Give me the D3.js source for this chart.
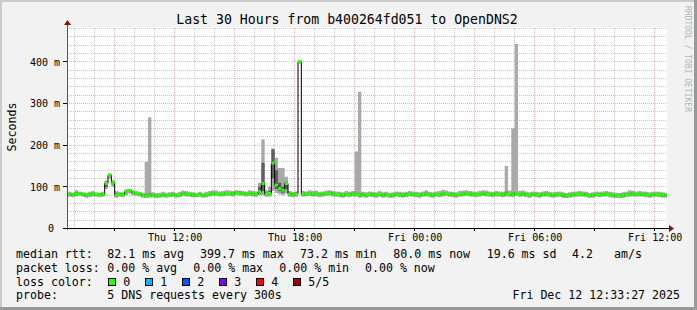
<!DOCTYPE html>
<html lang="en">
<head>
<meta charset="UTF-8">
<title>smokeping</title>
<script src="https://d3js.org/d3.v7.min.js"></script>
<style>
  body { margin: 0; background: #fff; }
  text { font-family: "DejaVu Sans Mono", monospace; fill: #000; }
</style>
</head>
<body>
<svg width="697" height="310" id="mainsvg"></svg>
<script>
// 10 minute samples, first one at Thu 06:40
const med = [
  82,81,83,84,82,80,81,83,82,81,
  82,108,128,110,80,82,81,88,91,86,
  84,83,79,78,79,80,78,79,80,79,
  80,81,79,80,84,83,82,80,80,81,
  79,80,82,84,84,82,82,84,84,83,
  86,85,84,83,84,83,82,88,108,82,
  84,157,104,96,92,108,82,81,82,400,
  82,83,84,82,83,81,82,84,85,83,
  82,81,80,82,81,83,82,80,81,80,
  82,81,80,82,80,81,79,80,82,81,
  80,81,83,82,81,80,82,83,81,80,
  82,81,83,84,82,81,80,82,83,84,
  83,82,81,82,84,83,82,81,83,82,
  81,83,82,81,84,82,83,81,80,82,
  81,80,82,83,81,80,81,82,80,78,
  80,81,82,83,82,81,79,80,82,81,
  82,83,81,80,79,78,79,81,82,83,
  82,83,82,81,80,81,82,81,80,80
];
const hi = [
  88,86,92,89,87,86,88,90,87,86,
  88,115,132,116,90,88,87,94,95,92,
  90,88,86,160,267,87,85,86,88,86,
  87,88,86,88,91,90,88,87,86,88,
  86,88,90,92,91,89,90,92,91,90,
  92,91,90,89,92,90,89,110,214,92,
  100,192,170,145,145,124,90,88,89,404,
  90,89,92,90,91,88,89,91,92,90,
  89,88,87,90,88,90,185,328,88,87,
  89,88,87,90,87,88,86,87,89,88,
  87,88,90,89,88,87,89,92,88,87,
  89,90,93,91,89,88,87,90,91,92,
  90,89,88,90,92,91,89,88,90,89,
  88,150,91,240,443,90,91,89,87,89,
  88,87,89,90,88,87,88,89,87,85,
  87,88,89,90,89,88,86,87,89,88,
  89,90,88,87,86,85,87,88,92,90,
  89,90,89,88,87,88,89,88,87,86
];
const lo = [
  76,75,77,78,76,74,75,77,76,75,
  76,95,120,100,74,76,75,80,84,80,
  78,77,74,73,74,75,73,74,75,74,
  75,76,74,75,78,77,76,75,75,76,
  74,75,77,78,78,77,77,78,78,77,
  80,79,78,77,78,77,76,80,80,76,
  77,90,85,82,80,84,76,75,76,396,
  76,77,78,76,77,75,76,78,79,77,
  76,75,74,76,75,77,76,74,75,74,
  76,75,74,76,74,75,73,74,76,75,
  74,75,77,76,75,74,76,77,75,74,
  76,75,77,78,76,75,74,76,77,78,
  77,76,75,76,78,77,76,75,77,76,
  75,77,76,75,78,76,77,75,74,76,
  75,74,76,77,75,74,75,76,74,73,
  74,75,76,77,76,75,73,74,76,75,
  76,77,75,74,73,73,73,75,76,77,
  76,77,76,75,74,75,76,75,74,74
];
const darkLo = [
  79,78,80,81,79,77,78,80,79,78,
  79,100,125,106,77,79,78,85,88,83,
  81,80,76,75,76,77,75,76,77,76,
  77,78,76,77,81,80,79,77,77,78,
  76,77,79,81,81,79,79,81,81,80,
  83,82,81,80,81,80,79,84,90,79,
  80,120,95,90,86,95,79,78,79,398,
  79,80,81,79,80,78,79,81,82,80,
  79,78,77,79,78,80,79,77,78,77,
  79,78,77,79,77,78,76,77,79,78,
  77,78,80,79,78,77,79,80,78,77,
  79,78,80,81,79,78,77,79,80,81,
  80,79,78,79,81,80,79,78,80,79,
  78,80,79,78,81,79,80,78,77,79,
  78,77,79,80,78,77,78,79,77,75,
  77,78,79,80,79,78,76,77,79,78,
  79,80,78,77,76,75,76,78,79,80,
  79,80,79,78,77,78,79,78,77,77
];
const darkHi = [
  85,84,87,87,85,83,84,86,85,84,
  85,112,130,114,84,85,84,91,93,89,
  87,86,82,82,84,83,81,82,83,82,
  83,84,82,83,87,86,85,83,83,84,
  82,83,85,87,87,85,85,87,87,86,
  89,88,87,86,87,86,85,100,158,86,
  90,190,140,110,100,112,86,85,86,402,
  85,86,87,85,86,84,85,87,88,86,
  85,84,83,85,84,86,86,84,84,83,
  85,84,83,85,83,84,82,83,85,84,
  83,84,86,85,84,83,85,86,84,83,
  85,84,86,87,85,84,83,85,86,87,
  86,85,84,85,87,86,85,84,86,85,
  84,88,85,86,87,85,86,84,83,85,
  84,83,85,86,84,83,84,85,83,81,
  83,84,85,86,85,84,82,83,85,84,
  85,86,84,83,82,81,82,84,86,86,
  85,86,85,84,83,84,85,84,83,83
];

const firstSample = new Date(2025, 11, 11, 6, 40);
const stepMinutes = 10;
const viewStart = new Date(2025, 11, 11, 6, 37);
const viewEnd = new Date(2025, 11, 12, 12, 37);
const labelTimes = [
  new Date(2025, 11, 11, 12, 0), new Date(2025, 11, 11, 18, 0),
  new Date(2025, 11, 12, 0, 0), new Date(2025, 11, 12, 6, 0),
  new Date(2025, 11, 12, 12, 0)
];
const yTicks = [0, 100, 200, 300, 400];
const yMax = 480;

const titleText = 'Last 30 Hours from b400264fd051 to OpenDNS2';
const rttStats = ['82.1 ms avg', '399.7 ms max', '73.2 ms min', '80.0 ms now', '19.6 ms sd'];
const amsStat = ['4.2', 'am/s'];
const lossStats = ['0.00 % avg', '0.00 % max', '0.00 % min', '0.00 % now'];
const lossLabels = ['0', '1', '2', '3', '4', '5/5'];
const lossColors = ['#26ff00', '#00b8ff', '#0059ff', '#7e00ff', '#ff0000', '#a10000'];
const probeText = '5 DNS requests every 300s';
const stampText = 'Fri Dec 12 12:33:27 2025';

const svg = d3.select('#mainsvg');
const width = +svg.attr('width');
const height = +svg.attr('height');
const plot = { left: 67, right: 667, top: 28, bottom: 228 };

const x = d3.scaleTime().domain([viewStart, viewEnd]).range([plot.left, plot.right]);
const y = d3.scaleLinear().domain([0, yMax]).range([plot.bottom + 0.5, plot.top + 0.5]);
const px = v => Math.floor(v) + 0.5;

const rows = med.map((m, i) => ({
  t: d3.timeMinute.offset(firstSample, i * stepMinutes),
  med: m, hi: hi[i], lo: lo[i], dlo: darkLo[i], dhi: darkHi[i]
}));
// closing point so the last step gets its width
const rowsStep = rows.concat([Object.assign({}, rows[rows.length - 1],
  { t: d3.timeMinute.offset(rows[rows.length - 1].t, stepMinutes) })]);

// background + 3d frame
svg.append('rect').attr('width', width).attr('height', height).attr('fill', '#f2f2f2');
svg.append('path').attr('d', `M0,0H${width}V2H2V${height}H0Z`).attr('fill', '#cbcbcb');
svg.append('path').attr('d', `M${width},${height}H0V${height - 3}H${width - 3}V0H${width}Z`).attr('fill', '#999999');
svg.append('rect').attr('x', plot.left).attr('y', plot.top - 1)
  .attr('width', plot.right - plot.left).attr('height', plot.bottom - plot.top + 1).attr('fill', '#fff');

svg.append('defs').append('clipPath').attr('id', 'clip')
  .append('rect').attr('x', plot.left).attr('y', plot.top - 2)
  .attr('width', plot.right - plot.left).attr('height', plot.bottom - plot.top + 2);

// grid
const grid = svg.append('g').attr('shape-rendering', 'crispEdges').attr('stroke-dasharray', '1,1');
const minorY = d3.range(20, yMax + 1, 20).filter(v => v % 100 !== 0);
const majorY = d3.range(100, yMax + 1, 100);
grid.selectAll('.hmin').data(minorY).join('line')
  .attr('x1', plot.left).attr('x2', plot.right)
  .attr('y1', d => px(y(d))).attr('y2', d => px(y(d)))
  .attr('stroke', '#c6c6c6');
const hours = d3.timeHour.range(viewStart, viewEnd);
grid.selectAll('.vmin').data(hours.filter(h => h.getHours() % 3 !== 0)).join('line')
  .attr('y1', plot.top).attr('y2', plot.bottom)
  .attr('x1', d => px(x(d))).attr('x2', d => px(x(d)))
  .attr('stroke', '#c6c6c6');
grid.selectAll('.hmaj').data(majorY).join('line')
  .attr('x1', plot.left).attr('x2', plot.right)
  .attr('y1', d => px(y(d))).attr('y2', d => px(y(d)))
  .attr('stroke', '#f4b0b0');
grid.selectAll('.vmaj').data(hours.filter(h => h.getHours() % 3 === 0)).join('line')
  .attr('y1', plot.top).attr('y2', plot.bottom)
  .attr('x1', d => px(x(d))).attr('x2', d => px(x(d)))
  .attr('stroke', '#f4b0b0');

// smoke + median
const g = svg.append('g').attr('clip-path', 'url(#clip)');
const band = (a, b) => d3.area().curve(d3.curveStepAfter)
  .x(d => x(d.t)).y0(d => y(d[a])).y1(d => y(d[b]));
g.append('path').datum(rowsStep).attr('d', band('lo', 'hi')).attr('fill', '#a9a9a9');
g.append('path').datum(rowsStep).attr('d', band('dlo', 'dhi')).attr('fill', '#5f5f5f');
g.append('path').datum(rowsStep)
  .attr('d', d3.line().curve(d3.curveStepAfter).x(d => x(d.t)).y(d => y(d.med)))
  .attr('fill', 'none').attr('stroke', '#000').attr('stroke-width', 1);
g.selectAll('.medbar').data(rows).join('rect')
  .attr('x', d => x(d.t))
  .attr('width', d => x(d3.timeMinute.offset(d.t, stepMinutes)) - x(d.t))
  .attr('y', d => y(d.med) - 1.5).attr('height', 3)
  .attr('fill', lossColors[0]);

// axes
const xAxis = d3.axisBottom(x).tickValues(labelTimes).tickFormat(d3.timeFormat('%a %H:%M'))
  .tickSize(0).tickPadding(6);
svg.append('g').attr('transform', `translate(0, ${plot.bottom})`).call(xAxis)
  .call(a => a.select('.domain').remove())
  .call(a => a.selectAll('text').attr('font-size', 10).attr('font-family', 'DejaVu Sans Mono'));
const yAxis = d3.axisLeft(y).tickValues(yTicks).tickFormat(d => d === 0 ? '0 ' : d + ' m')
  .tickSize(0).tickPadding(7);
svg.append('g').attr('transform', `translate(${plot.left}, 0)`).call(yAxis)
  .call(a => a.select('.domain').remove())
  .call(a => a.selectAll('text').attr('font-size', 10).attr('font-family', 'DejaVu Sans Mono')
    .style('white-space', 'pre'));

const ax = svg.append('g').attr('shape-rendering', 'crispEdges');
ax.selectAll('.xt').data(hours.filter(h => h.getHours() % 3 === 0)).join('line')
  .attr('x1', d => px(x(d))).attr('x2', d => px(x(d)))
  .attr('y1', plot.bottom).attr('y2', plot.bottom + 3).attr('stroke', '#000');
ax.selectAll('.yt').data(majorY.concat([0])).join('line')
  .attr('x1', plot.left - 4).attr('x2', plot.left)
  .attr('y1', d => px(y(d))).attr('y2', d => px(y(d))).attr('stroke', '#000');
ax.append('line').attr('x1', plot.left + 0.5).attr('x2', plot.left + 0.5)
  .attr('y1', plot.bottom + 2).attr('y2', plot.top - 4).attr('stroke', '#555');
ax.append('line').attr('x1', plot.left - 2).attr('x2', plot.right + 3)
  .attr('y1', plot.bottom + 0.5).attr('y2', plot.bottom + 0.5).attr('stroke', '#000');
svg.append('path').attr('fill', '#8b1111')
  .attr('d', `M${plot.left + 0.5},${plot.top - 8}l3.5,5h-7Z`);
svg.append('path').attr('fill', '#8b1111')
  .attr('d', `M${plot.right + 7},${plot.bottom + 0.5}l-5,-3.5v7Z`);

// title, unit, watermark
svg.append('text').attr('x', 347).attr('y', 24).attr('text-anchor', 'middle')
  .attr('font-size', 13.2).text(titleText);
svg.append('text').attr('transform', 'translate(15.5, 127) rotate(-90)')
  .attr('text-anchor', 'middle').attr('font-size', 11.6).text('Seconds');
svg.append('text').attr('transform', 'translate(685, 59) rotate(90)')
  .attr('text-anchor', 'middle').attr('font-size', 8).style('fill', '#b4b4b4')
  .text('RRDTOOL / TOBI OETIKER');

// legend
const leg = svg.append('g').attr('font-size', 11.6).style('white-space', 'pre');
const rowY = [258, 271.5, 285.5, 299];
const put = (txt, lx, ly, anchor) => leg.append('text').attr('x', lx).attr('y', ly)
  .attr('text-anchor', anchor || 'start').text(txt);
put('median rtt:', 16, rowY[0]);
[107.3, 200, 300, 393.3, 486.7].forEach((lx, i) => put(rttStats[i], lx, rowY[0]));
put(amsStat[0], 572, rowY[0]);
put(amsStat[1], 614, rowY[0]);
put('packet loss:', 16, rowY[1]);
[107.3, 193.3, 279.3, 365].forEach((lx, i) => put(lossStats[i], lx, rowY[1]));
put('loss color:', 16, rowY[2]);
const boxX = [108.5, 145.5, 182.5, 219.5, 256.5, 293.5];
lossLabels.forEach((lab, i) => {
  leg.append('rect').attr('x', boxX[i]).attr('y', 278.5).attr('width', 7).attr('height', 7)
    .attr('fill', lossColors[i]).attr('stroke', '#000').attr('stroke-width', 1);
  put(lab, boxX[i] + 14.7, rowY[2]);
});
put('probe:', 16, rowY[3]);
put(probeText, 107.3, rowY[3]);
put(stampText, 680, rowY[3], 'end');
</script>
</body>
</html>
